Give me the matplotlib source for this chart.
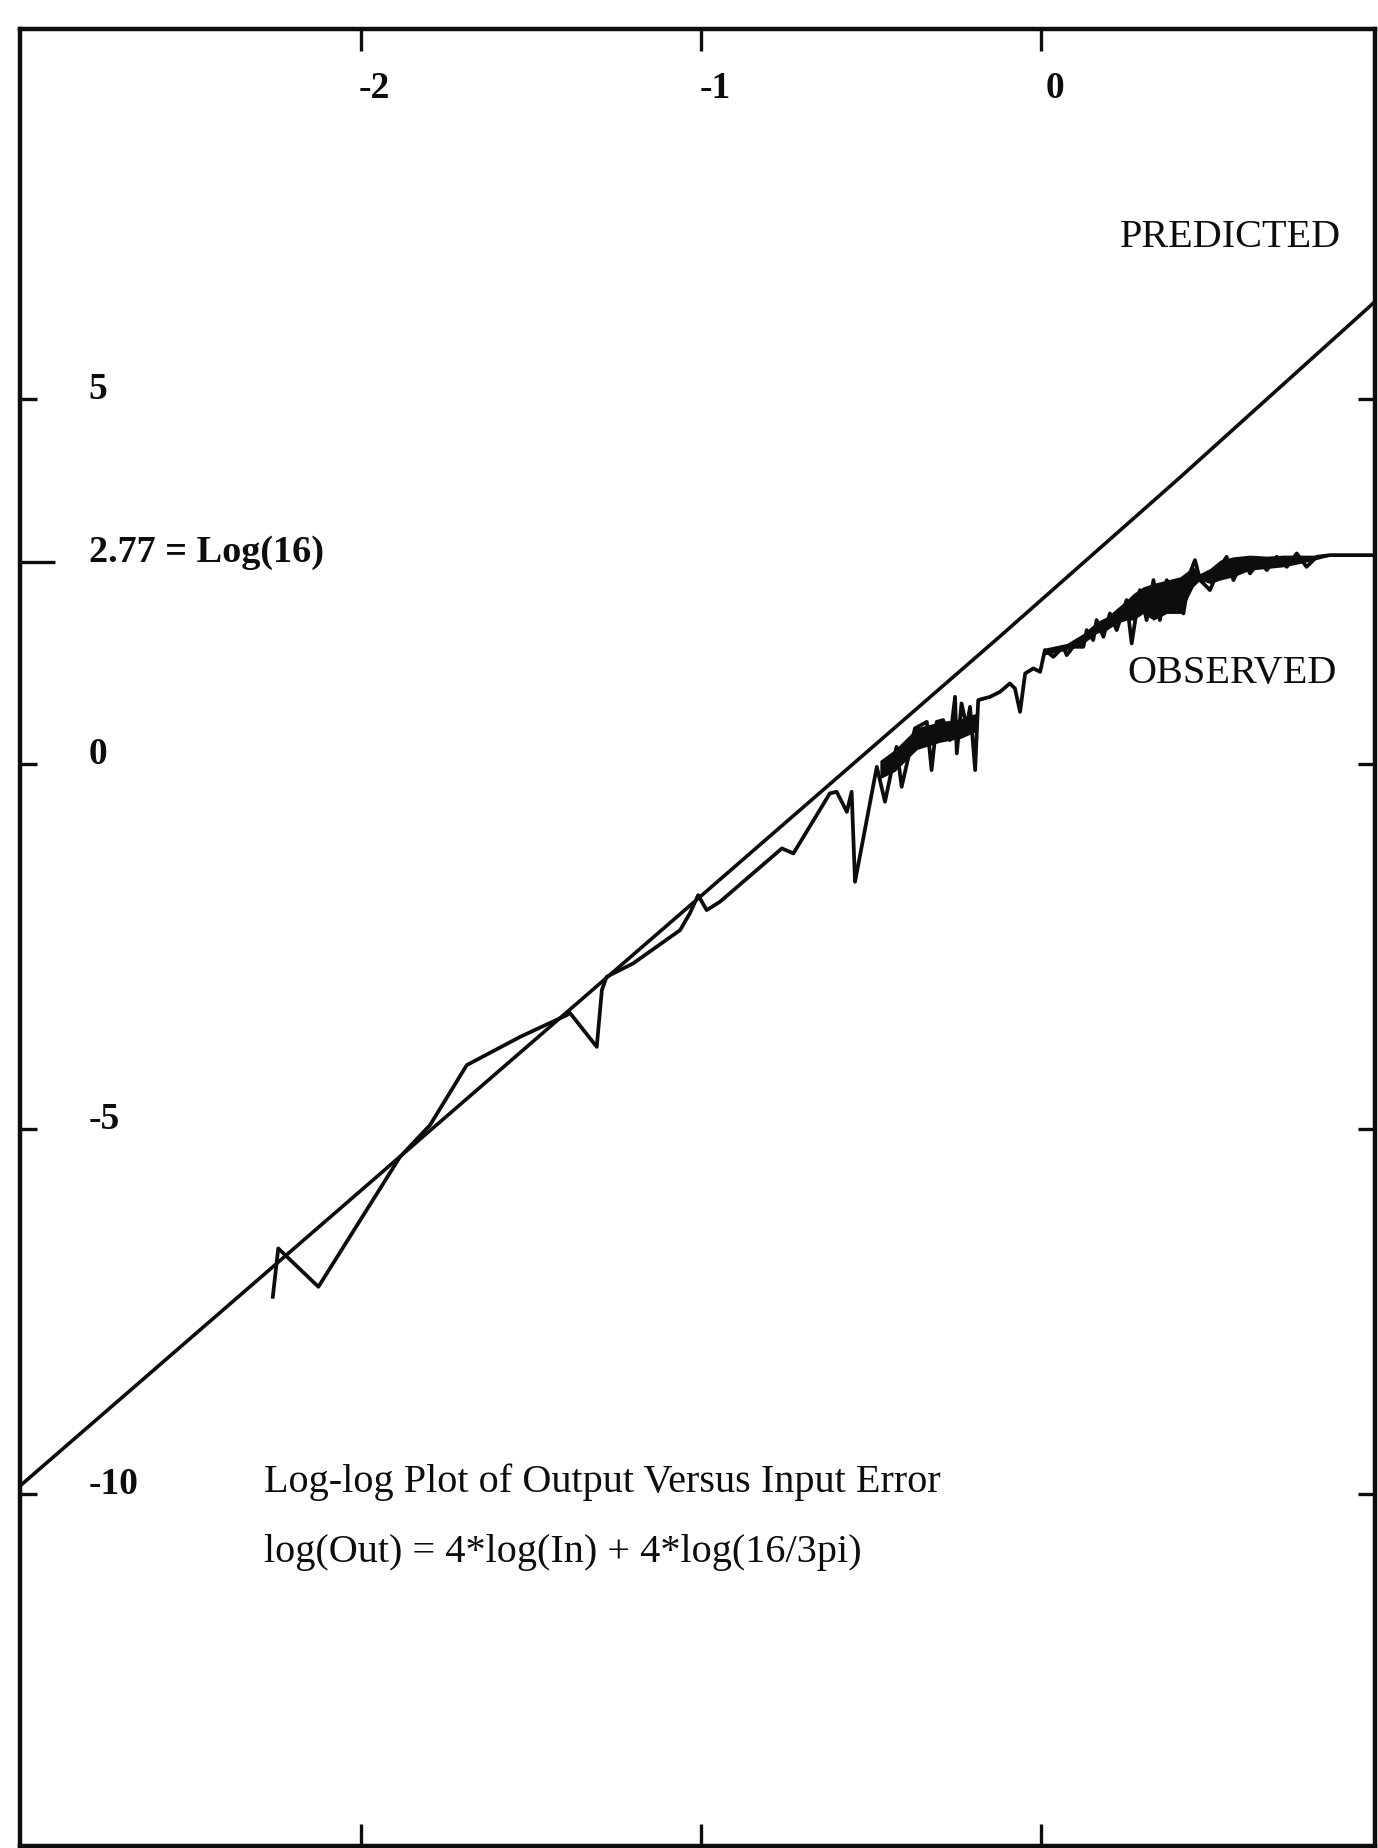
"""Log-log plot of output versus input error: predicted line vs observed curve."""
import matplotlib

matplotlib.use("Agg")
import matplotlib.pyplot as plt

# --- data (axis units) -----------------------------------------------------
predicted_x = [-3.0, -1.886, -1.004, -0.122, 0.398, 0.986]
predicted_y = [-9.88, -5.38, -1.82, 1.75, 3.89, 6.36]

observed_x = [
    -2.259, -2.243, -2.125, -1.885, -1.797, -1.689, -1.532, -1.395, -1.386,
    -1.307, -1.292, -1.278, -1.200, -1.062, -1.033, -1.009, -0.984, -0.945,
    -0.763, -0.729, -0.622, -0.602, -0.572, -0.558, -0.548, -0.484, -0.460,
    -0.426, -0.411, -0.372, -0.337, -0.323, -0.308, -0.289, -0.269, -0.254,
    -0.249, -0.235, -0.220, -0.210, -0.195, -0.186, -0.151, -0.122, -0.093,
    -0.078, -0.063, -0.048, -0.024, -0.004, 0.010, 0.035, 0.064, 0.074,
    0.093, 0.123, 0.133, 0.152, 0.162, 0.182, 0.201, 0.221, 0.250, 0.265,
    0.289, 0.309, 0.329, 0.348, 0.368, 0.397, 0.417, 0.436, 0.451, 0.466,
    0.495, 0.525, 0.544, 0.564, 0.593, 0.613, 0.642, 0.662, 0.691, 0.721,
    0.750, 0.779, 0.809, 0.848, 0.986,
]
observed_y = [
    -7.297, -6.634, -7.160, -5.379, -4.945, -4.123, -3.736, -3.438, -3.407,
    -3.873, -3.096, -2.914, -2.730, -2.274, -2.041, -1.795, -2.000, -1.886,
    -1.155, -1.223, -0.401, -0.379, -0.653, -0.379, -1.612, -0.037, -0.516,
    0.237, -0.311, 0.489, 0.579, -0.082, 0.579, 0.603, 0.329, 0.922,
    0.147, 0.832, 0.511, 0.785, -0.082, 0.877, 0.922, 0.990, 1.105,
    1.037, 0.716, 1.242, 1.311, 1.264, 1.562, 1.470, 1.607, 1.493,
    1.607, 1.607, 1.836, 1.699, 1.973, 1.744, 2.064, 1.836, 2.247, 1.653,
    2.384, 1.973, 2.521, 1.973, 2.521, 2.155, 2.064, 2.612, 2.795, 2.521,
    2.384, 2.703, 2.840, 2.521, 2.795, 2.612, 2.795, 2.658, 2.840, 2.703,
    2.886, 2.703, 2.840, 2.863, 2.863,
]

# the observed trace oscillates faster than the plotter resolves: these are
# the upper / lower edges of the solid inked core where it smears together
band1_x = [-0.475, -0.431, -0.366, -0.298, -0.239, -0.190]
band1_hi = [0.05, 0.20, 0.50, 0.58, 0.62, 0.70]
band1_lo = [-0.20, -0.10, 0.20, 0.30, 0.35, 0.45]

band2_x = [
    0.005, 0.074, 0.123, 0.162, 0.192, 0.221, 0.250, 0.270, 0.299, 0.329,
    0.368, 0.407, 0.446, 0.466, 0.495, 0.525, 0.564, 0.613, 0.662, 0.711,
    0.760, 0.809, 0.848,
]
band2_hi = [
    1.585, 1.653, 1.790, 1.950, 2.018, 2.133, 2.247, 2.338, 2.429, 2.475,
    2.521, 2.566, 2.703, 2.612, 2.680, 2.795, 2.840, 2.863, 2.849, 2.863,
    2.863, 2.863, 2.863,
]
band2_lo = [
    1.493, 1.562, 1.653, 1.790, 1.836, 1.927, 1.973, 1.973, 2.064, 1.973,
    2.064, 2.064, 2.429, 2.521, 2.475, 2.521, 2.566, 2.658, 2.680, 2.703,
    2.749, 2.804, 2.850,
]

x_ticks = [-2, -1, 0]
x_tick_labels = ["-2", "-1", "0"]
y_ticks = [5, 0, -5, -10]
y_tick_labels = ["5", "0", "-5", "-10"]
log16_tick = 2.77
log16_label = "2.77 = Log(16)"

title_lines = [
    "Log-log Plot of Output Versus Input Error",
    "log(Out) = 4*log(In) + 4*log(16/3pi)",
]

# --- figure ----------------------------------------------------------------
SERIF = ["Liberation Serif", "DejaVu Serif"]
INK = "#0d0d0d"

fig = plt.figure(figsize=(13.78, 18.48), dpi=100)
ax = fig.add_axes([0.0145, 0.0011, 0.9833, 0.9832])
ax.set_xlim(-3.002, 0.980)
ax.set_ylim(-14.82, 10.07)

ax.plot(predicted_x, predicted_y, color=INK, linewidth=2.6)
ax.fill_between(band1_x, band1_lo, band1_hi, color=INK, linewidth=0)
ax.fill_between(band2_x, band2_lo, band2_hi, color=INK, linewidth=0)
ax.plot(observed_x, observed_y, color=INK, linewidth=2.7)

for side in ax.spines.values():
    side.set_linewidth(3.2)
    side.set_color(INK)

ax.set_xticks(x_ticks)
ax.set_yticks(y_ticks)
ax.set_yticks([log16_tick], minor=True)
ax.tick_params(axis="x", which="major", direction="in", top=True, bottom=True,
               length=16, width=2.4, color=INK, labelbottom=False, labeltop=False)
ax.tick_params(axis="y", which="major", direction="in", left=True, right=True,
               length=12, width=2.4, color=INK, labelleft=False, labelright=False)
ax.tick_params(axis="y", which="minor", direction="in", left=True, right=False,
               length=25, width=2.4, color=INK, labelleft=False, labelright=False)

# tick labels sit inside the frame
for xv, lab in zip(x_ticks, x_tick_labels):
    ax.text(xv + 0.04, 9.26, lab, ha="center", va="center",
            fontsize=27, fontweight="bold", family=SERIF, color=INK)
for yv, lab in zip(y_ticks, y_tick_labels):
    ax.text(-2.80, yv, lab, ha="left", va="baseline",
            fontsize=27, fontweight="bold", family=SERIF, color=INK)
ax.text(-2.80, log16_tick, log16_label, ha="left", va="baseline",
        fontsize=27.5, fontweight="bold", family=SERIF, color=INK)

ax.text(0.231, 7.08, "PREDICTED", ha="left", va="baseline",
        fontsize=29, family=SERIF, color=INK)
ax.text(0.251, 1.11, "OBSERVED", ha="left", va="baseline",
        fontsize=29, family=SERIF, color=INK)

ax.text(-2.285, -9.97, title_lines[0], ha="left", va="baseline",
        fontsize=29, family=SERIF, color=INK)
ax.text(-2.285, -10.93, title_lines[1], ha="left", va="baseline",
        fontsize=29, family=SERIF, color=INK)

fig.savefig("out.png", dpi=100)
